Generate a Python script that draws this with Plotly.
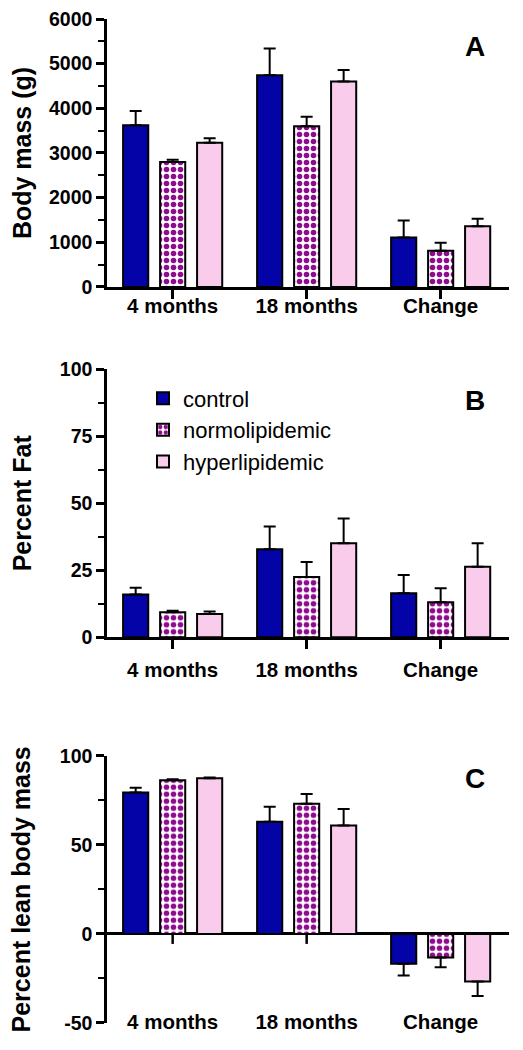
import plotly.graph_objects as go
from plotly.subplots import make_subplots

categories = ["4 months", "18 months", "Change"]
groups = ["control", "normolipidemic", "hyperlipidemic"]

mass_control = [3620, 4740, 1110]
mass_control_err = [320, 600, 380]
mass_normo = [2800, 3600, 810]
mass_normo_err = [50, 210, 180]
mass_hyper = [3230, 4600, 1360]
mass_hyper_err = [100, 260, 170]

fat_control = [16.0, 32.8, 16.4]
fat_control_err = [2.5, 8.5, 6.8]
fat_normo = [9.3, 22.5, 13.1]
fat_normo_err = [0.6, 5.6, 5.2]
fat_hyper = [8.7, 35.1, 26.3]
fat_hyper_err = [0.9, 9.2, 8.8]

lean_control = [79.4, 63.0, -16.8]
lean_control_err = [2.6, 8.4, 6.6]
lean_normo = [86.2, 73.0, -13.3]
lean_normo_err = [0.6, 5.5, 5.4]
lean_hyper = [87.3, 60.9, -26.7]
lean_hyper_err = [0.5, 9.2, 8.2]

lean_tickvals = [-50, 0, 50, 100]
lean_ticktext = ["-50", "0", "50", "100"]

BLUE = "#0303A8"
PURPLE = "#8E0C8E"
PINK = "#F9CCEB"
FONT = "Arial, 'Liberation Sans', sans-serif"

styles = {
    "control": dict(color=BLUE),
    "normolipidemic": dict(color="white",
                           pattern=dict(shape=".", fgcolor=PURPLE, bgcolor="white",
                                        size=7, solidity=0.5, fillmode="replace")),
    "hyperlipidemic": dict(color=PINK),
}

panels = [
    ([mass_control, mass_normo, mass_hyper], [mass_control_err, mass_normo_err, mass_hyper_err]),
    ([fat_control, fat_normo, fat_hyper], [fat_control_err, fat_normo_err, fat_hyper_err]),
    ([lean_control, lean_normo, lean_hyper], [lean_control_err, lean_normo_err, lean_hyper_err]),
]

fig = make_subplots(rows=3, cols=1)

for r, (vals, errs) in enumerate(panels, start=1):
    for g, v, e in zip(groups, vals, errs):
        plus = [ee if vv >= 0 else 0 for vv, ee in zip(v, e)]
        minus = [ee if vv < 0 else 0 for vv, ee in zip(v, e)]
        fig.add_trace(go.Bar(
            x=categories, y=v, name=g, showlegend=(r == 2),
            marker=dict(line=dict(color="black", width=2), **styles[g]),
            error_y=dict(type="data", symmetric=False, array=plus, arrayminus=minus,
                         color="black", thickness=2, width=6),
        ), row=r, col=1)

fig.update_layout(
    template="none",
    width=523, height=1050,
    margin=dict(l=107, r=14, t=19, b=27, autoexpand=False),
    paper_bgcolor="white", plot_bgcolor="white",
    barmode="group", bargap=0.172, bargroupgap=0.32,
    font=dict(family=FONT, color="black"),
    legend=dict(x=0.0896, y=0.643, xanchor="left", yanchor="top",
                font=dict(family=FONT, size=22, color="black"),
                bgcolor="rgba(0,0,0,0)", borderwidth=0, tracegroupgap=0),
    yaxis=dict(domain=[0.7331, 1.0]),
    yaxis2=dict(domain=[0.3842, 0.6511]),
    yaxis3=dict(domain=[0.0, 0.2662]),
)

xcommon = dict(range=[-0.49, 2.51], showgrid=False, zeroline=False, automargin=False,
               tickfont=dict(family=FONT, size=20.5, color="black", weight="bold"))
fig.update_xaxes(showline=True, linecolor="black", linewidth=2.5,
                 ticks="outside", ticklen=9, tickwidth=2.5, tickcolor="black",
                 **xcommon)
fig.update_xaxes(ticklabelstandoff=-10, row=1, col=1)
fig.update_xaxes(ticklabelstandoff=3, row=2, col=1)
fig.update_xaxes(showline=False, ticks="", ticklabelstandoff=-16, row=3, col=1)

ycommon = dict(showline=True, linecolor="black", linewidth=2.5, showgrid=False, automargin=False,
               ticks="outside", ticklen=8, tickwidth=2.5, tickcolor="black",
               tickfont=dict(family=FONT, size=19.5, color="black", weight="bold"),
               title_font=dict(family=FONT, size=25, color="black", weight="bold"))
fig.update_yaxes(range=[0, 6000], dtick=1000, zeroline=False,
                 minor=dict(ticks="outside", dtick=500, ticklen=6, tickwidth=2, tickcolor="black"),
                 title=dict(text="Body mass (g)", standoff=11), row=1, col=1, **ycommon)
fig.update_yaxes(range=[0, 100], dtick=25, zeroline=False,
                 minor=dict(ticks="outside", dtick=12.5, ticklen=6, tickwidth=2, tickcolor="black"),
                 title=dict(text="Percent Fat", standoff=22), row=2, col=1, **ycommon)
fig.update_yaxes(range=[-50, 100], tickmode="array", tickvals=lean_tickvals, ticktext=lean_ticktext,
                 zeroline=True, zerolinecolor="black", zerolinewidth=2.5,
                 minor=dict(ticks="outside", dtick=25, ticklen=6, tickwidth=2, tickcolor="black"),
                 title=dict(text="Percent lean body mass", standoff=23), row=3, col=1, **ycommon)

# category tick marks below the zero line of panel C
for c in categories:
    fig.add_shape(type="line", xref="x3", yref="y3", x0=c, x1=c,
                  ysizemode="pixel", yanchor=0, y0=0, y1=-10,
                  line=dict(color="black", width=2.5), layer="below")

for lab, xr, yr, yy in [("A", "x domain", "y domain", 0.896),
                        ("B", "x2 domain", "y2 domain", 0.885),
                        ("C", "x3 domain", "y3 domain", 0.913)]:
    fig.add_annotation(text=lab, xref=xr, yref=yr, x=0.915, y=yy,
                       xanchor="center", yanchor="middle", showarrow=False,
                       font=dict(family=FONT, size=28, color="black", weight="bold"))

fig.write_html("out.html", config={"displayModeBar": False},
               post_script="document.body.style.margin='0px';")
